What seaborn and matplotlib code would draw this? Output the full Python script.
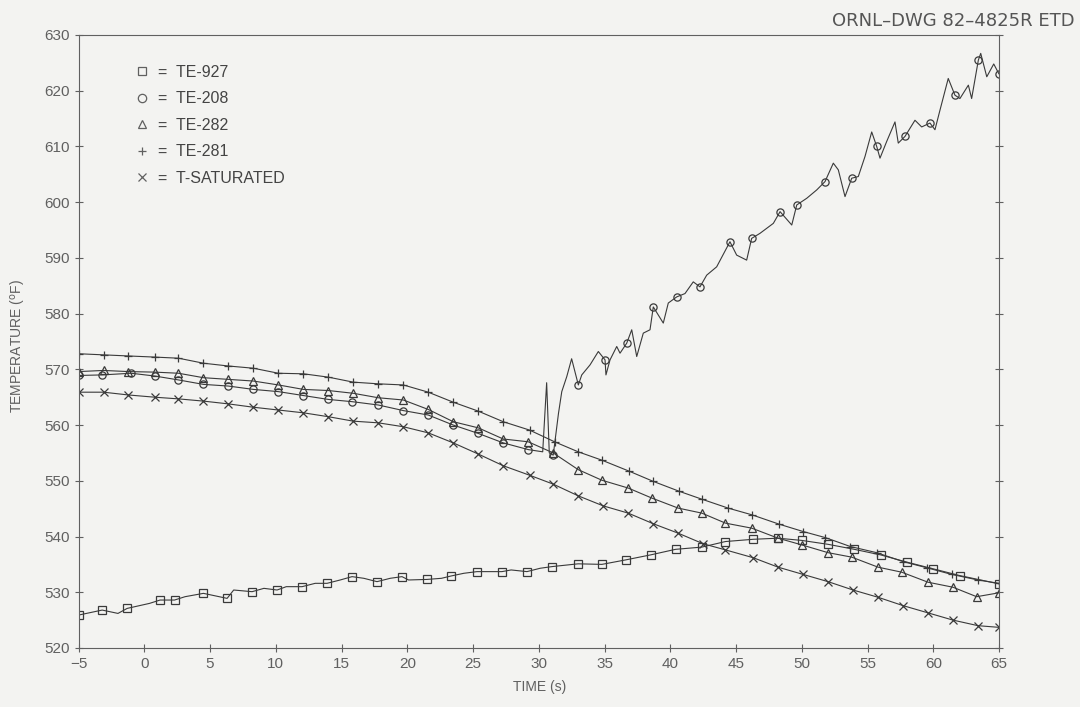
import matplotlib
matplotlib.use('Agg')
import matplotlib.pyplot as plt
from matplotlib.lines import Line2D
import seaborn as sns

# TE-281 (plus markers, top curve)
t281 = [-5, -3.1, -1.2, 0.8, 2.6, 4.5, 6.4, 8.3, 10.2, 12.1, 14.0, 15.9, 17.8, 19.7,
        21.6, 23.5, 25.4, 27.3, 29.3, 31.2, 33.0, 34.8, 36.9, 38.7, 40.7, 42.4, 44.4,
        46.2, 48.3, 50.1, 51.8, 53.7, 55.7, 57.7, 59.5, 61.4, 63.4, 65.0]
T281 = [572.8, 572.6, 572.4, 572.2, 572.0, 571.1, 570.6, 570.2, 569.3, 569.2, 568.6,
        567.7, 567.4, 567.2, 565.9, 564.1, 562.5, 560.6, 559.1, 557.0, 555.2, 553.7,
        551.7, 549.9, 548.1, 546.7, 545.1, 543.9, 542.2, 540.9, 539.8, 538.2, 537.1,
        535.5, 534.4, 533.2, 532.2, 531.6]

# TE-282 (triangles)
t282 = [-5, -3.1, -1.2, 0.8, 2.6, 4.5, 6.4, 8.3, 10.2, 12.1, 14.0, 15.9, 17.8, 19.7,
        21.6, 23.5, 25.4, 27.3, 29.2, 31.1, 33.0, 34.8, 36.8, 38.6, 40.6, 42.4, 44.2,
        46.2, 48.2, 50.0, 52.0, 53.8, 55.8, 57.6, 59.6, 61.5, 63.3, 65.0]
T282 = [569.6, 569.8, 569.6, 569.5, 569.3, 568.5, 568.2, 567.9, 567.2, 566.4, 566.2,
        565.7, 564.9, 564.5, 562.8, 560.6, 559.5, 557.5, 557.0, 555.0, 552.0, 550.1,
        548.7, 546.9, 545.1, 544.2, 542.4, 541.5, 539.7, 538.5, 537.1, 536.3, 534.5,
        533.6, 531.8, 530.9, 529.2, 529.9]

# TE-208 (circles) - drops with the others, then climbs after ~31 s
t208 = [-5, -3.2, -1.0, 0.8, 2.6, 4.5, 6.4, 8.3, 10.2, 12.1, 14.0, 15.8, 17.8, 19.7,
        21.6, 23.5, 25.4, 27.3, 29.2, 30.3, 30.6, 30.8, 31.1, 31.5, 31.75, 32.13, 32.5,
        33.01, 33.27, 33.9, 34.53, 35.04, 35.11, 35.42, 35.93, 36.18, 36.69, 37.07,
        37.45, 37.95, 38.46, 38.71, 39.47, 39.85, 40.49, 41.12, 41.75, 42.26, 42.77,
        43.53, 44.54, 45.05, 45.81, 46.19, 46.82, 47.84, 48.35, 49.24, 49.62, 50.38,
        51.14, 51.77, 52.40, 52.78, 53.29, 53.80, 54.30, 54.81, 55.32, 55.70, 55.95,
        56.46, 57.09, 57.34, 57.85, 58.61, 59.12, 59.75, 60.13, 60.51, 61.14, 61.65,
        62.03, 62.67, 62.92, 63.43, 63.61, 64.07, 64.6, 65.0]
T208 = [568.9, 569.0, 569.3, 568.8, 568.1, 567.3, 567.0, 566.4, 566.0, 565.3, 564.6,
        564.2, 563.6, 562.6, 561.8, 560.0, 558.5, 556.8, 555.6, 555.2, 567.6, 555.0,
        554.6, 562.1, 566.0, 568.7, 571.9, 567.2, 569.0, 570.8, 573.2, 571.7, 569.0,
        571.7, 574.1, 572.9, 574.7, 577.1, 572.3, 576.5, 577.1, 581.2, 578.3, 581.9,
        583.0, 583.6, 585.7, 584.8, 586.9, 588.4, 592.9, 590.5, 589.6, 593.5, 594.4,
        596.2, 598.3, 595.9, 599.5, 600.7, 602.2, 603.7, 607.0, 605.8, 601.0, 604.3,
        604.6, 608.2, 612.6, 610.0, 607.9, 610.9, 614.4, 610.6, 611.8, 614.7, 613.5,
        614.2, 613.0, 616.5, 622.2, 619.2, 618.6, 621.0, 618.6, 625.5, 626.7, 622.5,
        624.8, 623.0]

# TE-927 (squares, bottom curve)
t927 = [-5, -3.2, -2.0, -1.3, 0.4, 1.2, 2.3, 3.1, 4.5, 6.3, 6.8, 8.2, 9.1, 10.1, 10.8,
        12.0, 13.0, 13.9, 14.9, 15.8, 16.7, 17.7, 18.7, 19.6, 20.1, 21.5, 22.6, 23.3,
        24.3, 25.3, 27.2, 27.9, 29.1, 30.1, 31.0, 33.0, 34.8, 36.6, 38.5, 40.4, 42.4,
        44.2, 46.3, 48.2, 50.0, 52.0, 54.0, 56.0, 58.0, 60.0, 62.0, 64.0, 65.0]
T927 = [525.9, 526.8, 526.2, 527.1, 528.0, 528.6, 528.6, 529.2, 529.8, 528.9, 530.4,
        530.1, 530.7, 530.4, 531.0, 531.0, 531.6, 531.6, 532.2, 532.8, 532.5, 531.9,
        532.5, 532.8, 532.2, 532.3, 532.5, 532.9, 533.4, 533.7, 533.7, 534.0, 533.7,
        534.3, 534.6, 535.1, 535.0, 535.8, 536.7, 537.7, 538.1, 539.1, 539.5, 539.7,
        539.3, 538.6, 537.7, 536.7, 535.4, 534.2, 533.0, 532.0, 531.5]

# T-SATURATED (x markers)
tsat = [-5, -3.1, -1.2, 0.8, 2.6, 4.5, 6.4, 8.3, 10.2, 12.1, 14.0, 15.9, 17.8, 19.7,
        21.6, 23.5, 25.4, 27.3, 29.3, 31.1, 33.0, 34.9, 36.8, 38.7, 40.6, 42.5, 44.2,
        46.3, 48.2, 50.1, 52.0, 53.9, 55.8, 57.7, 59.6, 61.5, 63.4, 65.0]
Tsat = [565.9, 565.9, 565.4, 565.0, 564.7, 564.3, 563.8, 563.2, 562.7, 562.2, 561.5,
        560.7, 560.4, 559.7, 558.6, 556.8, 554.8, 552.7, 551.0, 549.4, 547.3, 545.5,
        544.2, 542.3, 540.6, 538.7, 537.6, 536.2, 534.5, 533.2, 531.9, 530.4, 529.1,
        527.6, 526.3, 525.0, 524.0, 523.7]

labels = ['TE-927', 'TE-208', 'TE-282', 'TE-281', 'T-SATURATED']
markers = ['s', 'o', '^', '+', 'x']

BG = '#f3f3f1'
INK = '#3a3a3a'
GREY = '#606060'

sns.set_style('ticks')
plt.rcParams['font.family'] = ['Liberation Sans', 'DejaVu Sans']


def nearest_marks(ts, grid):
    # marker positions: the points closest to the regular marker grid
    idx = []
    for g in grid:
        i = min(range(len(ts)), key=lambda k: abs(ts[k] - g))
        if abs(ts[i] - g) < 0.6 and i not in idx:
            idx.append(i)
    return idx


fig, ax = plt.subplots(figsize=(10.8, 7.07), dpi=100)
fig.patch.set_facecolor(BG)
ax.set_facecolor(BG)
fig.subplots_adjust(left=0.0727, right=0.925, bottom=0.0835, top=0.9505)

series = [(t927, T927), (t208, T208), (t282, T282), (t281, T281), (tsat, Tsat)]
for (tx, ty), m, lab in zip(series, markers, labels):
    if lab in ('TE-927', 'TE-208'):
        mev = nearest_marks(tx, t282)
    else:
        mev = None
    sns.lineplot(x=tx, y=ty, ax=ax, sort=False, estimator=None, color=INK,
                 lw=0.8, marker=m, markersize=5.2, markerfacecolor='none',
                 markeredgecolor=INK, markeredgewidth=0.9, markevery=mev)

ax.set_xlim(-5, 65)
ax.set_ylim(520, 630)
ax.set_xticks(range(-5, 66, 5))
ax.set_yticks(range(520, 631, 10))
ax.tick_params(direction='inout', length=6, width=0.8, colors=GREY,
               labelsize=11, right=True, labelright=False)
for s in ax.spines.values():
    s.set_color(GREY)
    s.set_linewidth(0.8)
ax.set_xlabel('')
ax.set_ylabel('')

handles = [Line2D([], [], ls='none', marker=m, markersize=6, markerfacecolor='none',
                  markeredgecolor=GREY, markeredgewidth=0.9) for m in markers]
ax.legend(handles, ['=  ' + l for l in labels], loc='upper left',
          bbox_to_anchor=(0.045, 0.975), frameon=False, fontsize=11.5,
          labelcolor='#444444', handlelength=1.0, handletextpad=0.5,
          labelspacing=0.72)

fig.text(0.5, 0.018, 'TIME (s)', ha='center', va='bottom', fontsize=10, color=GREY)
fig.text(0.017, 0.51, 'TEMPERATURE ($^{\\rm o}$F)', rotation=90, ha='center',
         va='center', fontsize=10, color=GREY)
fig.text(0.995, 0.983, 'ORNL\u2013DWG 82\u20134825R ETD', ha='right', va='top',
         fontsize=13, color='#555555', family=['DejaVu Sans'])

fig.savefig('out.png', dpi=100, facecolor=BG)
